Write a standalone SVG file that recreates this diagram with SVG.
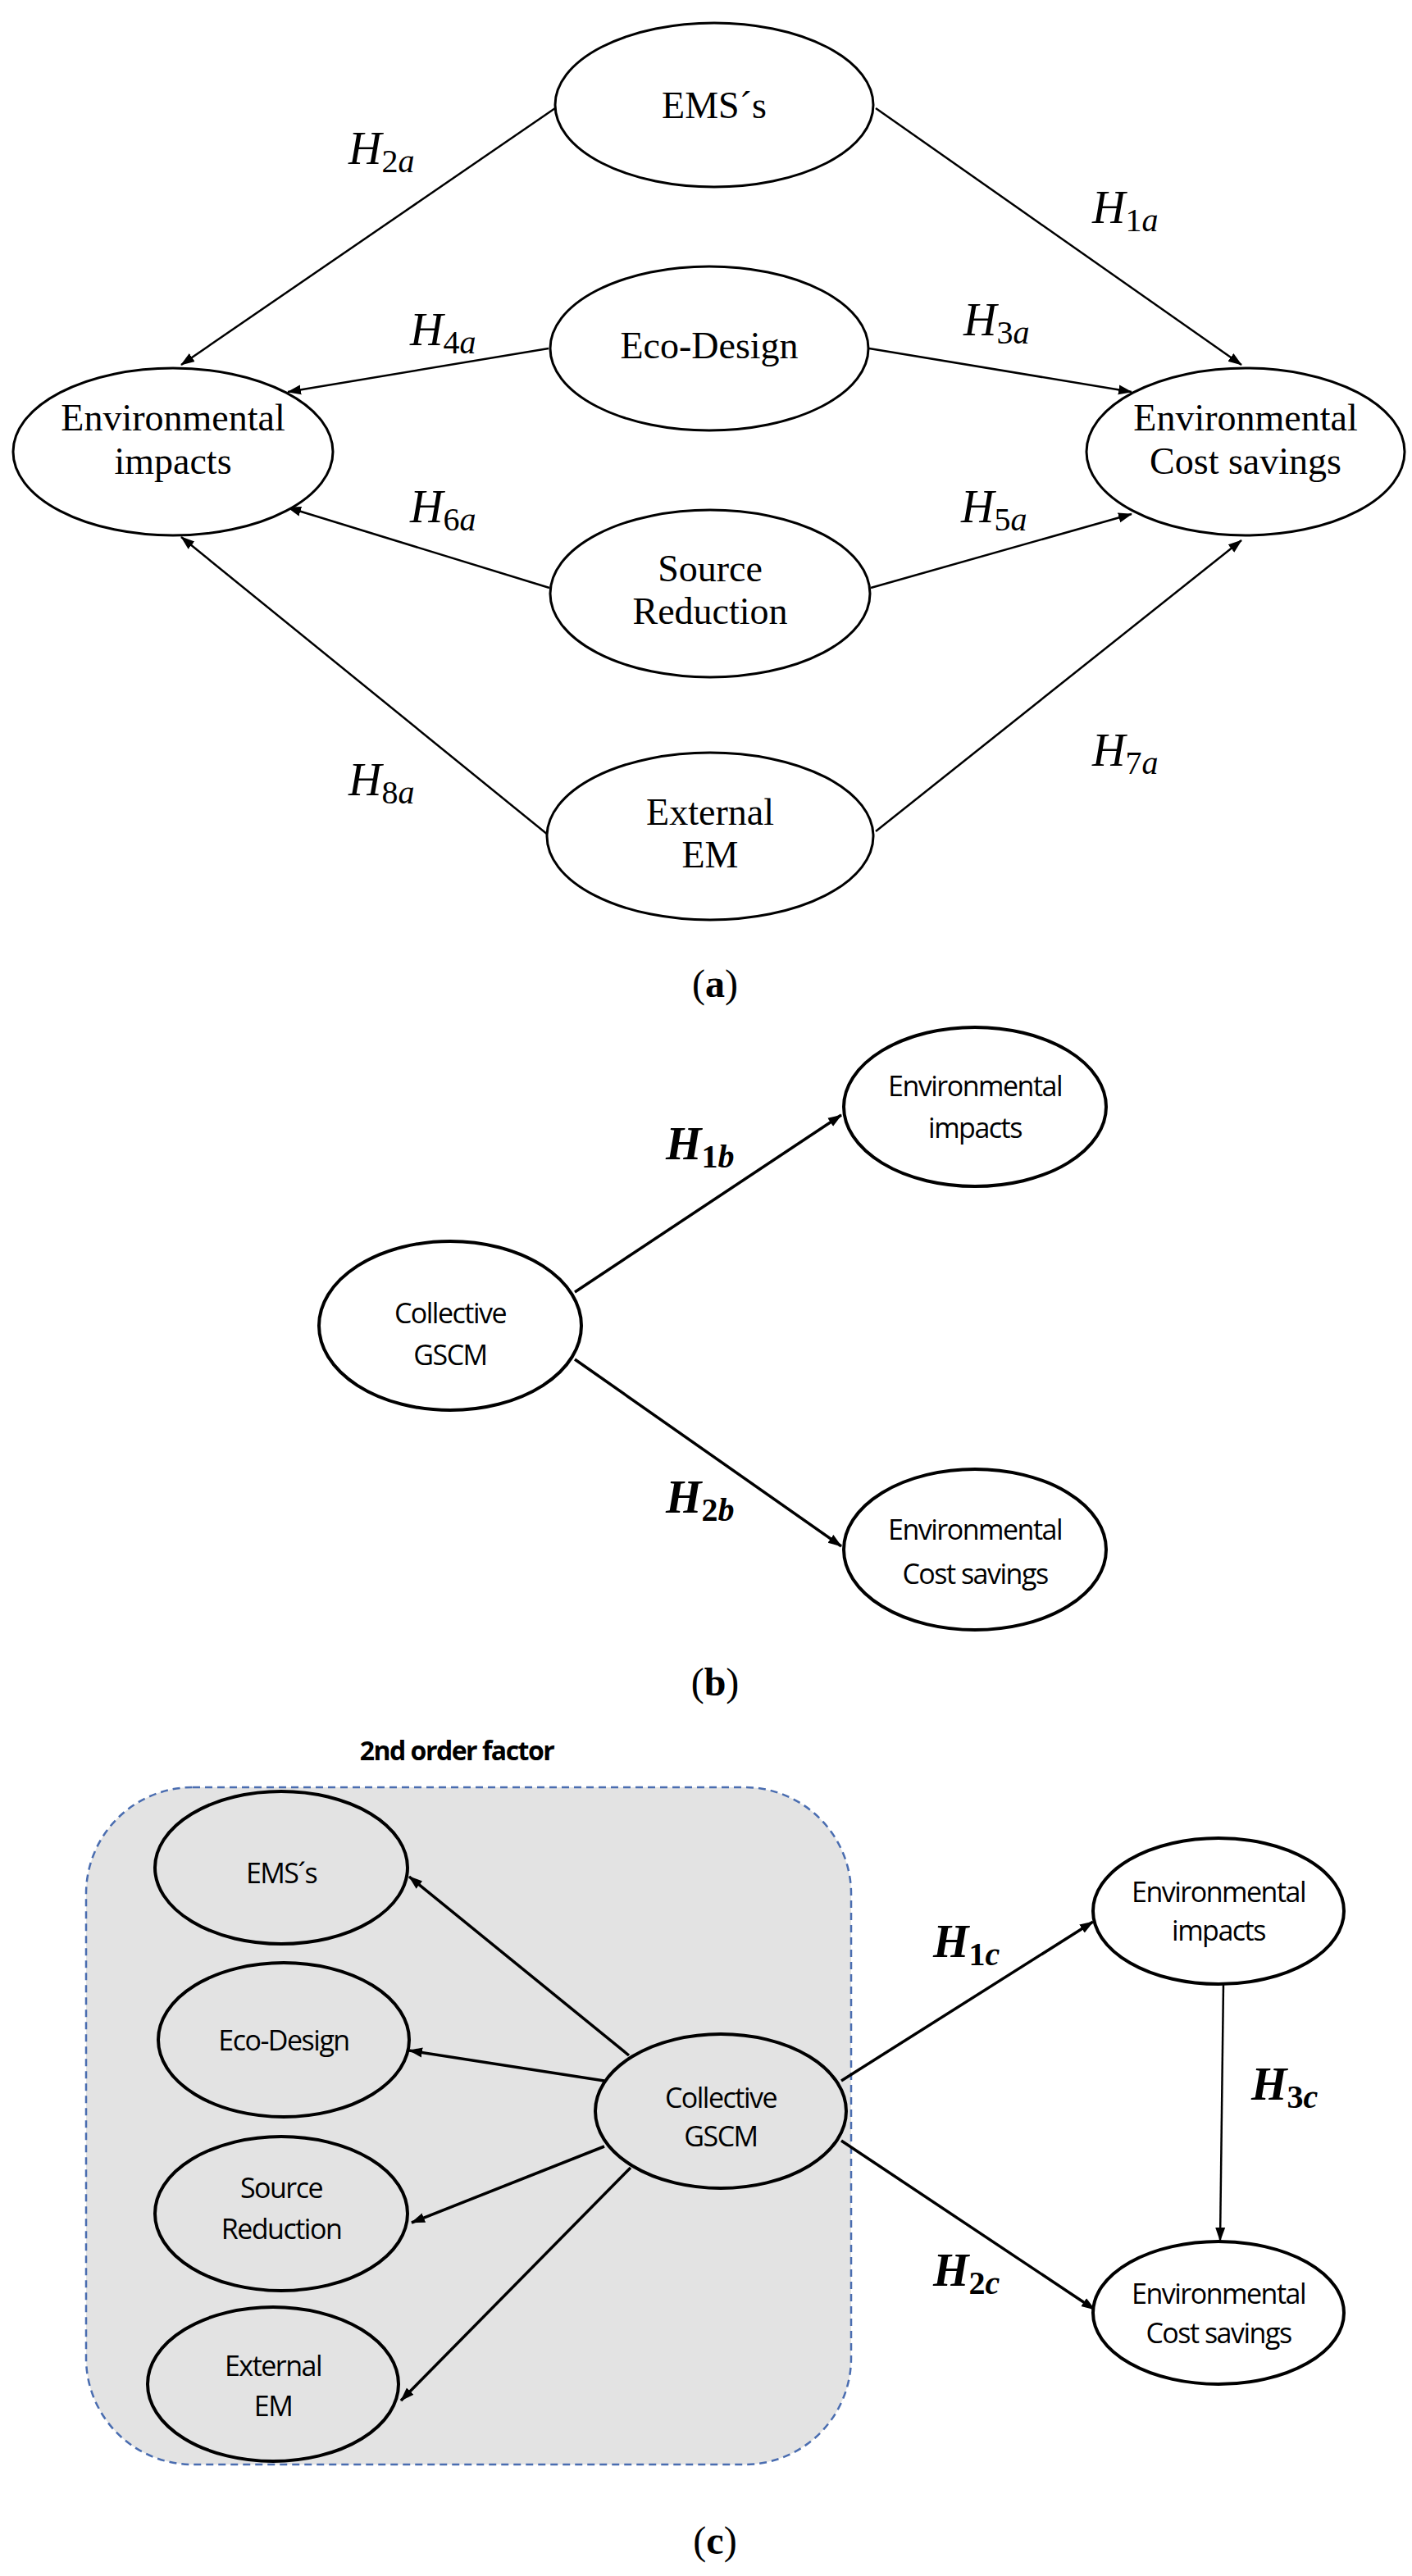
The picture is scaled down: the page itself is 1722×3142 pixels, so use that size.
<svg xmlns="http://www.w3.org/2000/svg" width="1722" height="3142" viewBox="0 0 1722 3142">
<style>
.na{fill:#fff;stroke:#000;stroke-width:3}
.nb{fill:#fff;stroke:#000;stroke-width:4}
.ng{fill:#e3e3e3;stroke:#000;stroke-width:4}
.ta{font-family:"Liberation Serif",serif;font-size:46px;text-anchor:middle}
.tb{font-family:"Open Sans","Liberation Sans",sans-serif;font-size:34px;text-anchor:middle;letter-spacing:-1.5px}
.ha{font-family:"Liberation Serif",serif;font-size:56px;font-style:italic}
.hb{font-family:"Liberation Serif",serif;font-size:56px;font-style:italic;font-weight:bold}
.sub{font-size:40px}
.ca{stroke:#000;stroke-width:2.5;fill:none;marker-end:url(#ah)}
.cb{stroke:#000;stroke-width:3.5;fill:none;marker-end:url(#ah)}
</style>
<defs>
<marker id="ah" markerUnits="userSpaceOnUse" markerWidth="18" markerHeight="14" refX="16" refY="7" orient="auto">
<path d="M0,1 L17,7 L0,13 Z" fill="#000"/>
</marker>
</defs>
<rect width="1722" height="3142" fill="#fff"/>
<g id="connectors">
<line class="ca" x1="677" y1="132" x2="221" y2="445"/>
<line class="ca" x1="1068" y1="132" x2="1514" y2="445"/>
<line class="ca" x1="669" y1="425" x2="351" y2="478"/>
<line class="ca" x1="1060" y1="425" x2="1380" y2="478"/>
<line class="ca" x1="670" y1="717" x2="351" y2="619"/>
<line class="ca" x1="1062" y1="717" x2="1380" y2="627"/>
<line class="ca" x1="668" y1="1018" x2="221" y2="655"/>
<line class="ca" x1="1068" y1="1014" x2="1514" y2="659"/>
<line class="cb" x1="701" y1="1576" x2="1026" y2="1360"/>
<line class="cb" x1="701" y1="1658" x2="1026" y2="1886"/>
</g>
<g id="group-2nd-order">
<rect x="105" y="2180" width="933" height="826" rx="130" ry="130" fill="#e3e3e3" stroke="#4a6db0" stroke-width="2.5" stroke-dasharray="9,6"/>
<text x="557" y="2147" class="tb" style="font-weight:bold;font-size:32px">2nd order factor</text>
</g>
<g id="connectors-c">
<line class="cb" x1="767" y1="2507" x2="499" y2="2289"/>
<line class="cb" x1="737" y1="2538" x2="499" y2="2501"/>
<line class="cb" x1="737" y1="2618" x2="502" y2="2711"/>
<line class="cb" x1="769" y1="2644" x2="489" y2="2928"/>
<line class="cb" x1="1026" y1="2538" x2="1333" y2="2344"/>
<line class="cb" x1="1026" y1="2611" x2="1335" y2="2817"/>
<line class="ca" x1="1492" y1="2419" x2="1488" y2="2733"/>
</g>
<g id="a-ems"><ellipse class="na" cx="871" cy="128" rx="194" ry="100"/><text class="ta" x="871" y="144">EMS´s</text></g>
<g id="a-eco"><ellipse class="na" cx="865" cy="425" rx="194" ry="100"/><text class="ta" x="865" y="437">Eco-Design</text></g>
<g id="a-src"><ellipse class="na" cx="866" cy="724" rx="195" ry="102"/><text class="ta" x="866" y="709">Source</text><text class="ta" x="866" y="761">Reduction</text></g>
<g id="a-ext"><ellipse class="na" cx="866" cy="1020" rx="199" ry="102"/><text class="ta" x="866" y="1006">External</text><text class="ta" x="866" y="1058">EM</text></g>
<g id="a-imp"><ellipse class="na" cx="211" cy="551" rx="195" ry="102"/><text class="ta" x="211" y="525">Environmental</text><text class="ta" x="211" y="578">impacts</text></g>
<g id="a-cost"><ellipse class="na" cx="1519" cy="551" rx="194" ry="102"/><text class="ta" x="1519" y="525">Environmental</text><text class="ta" x="1519" y="578">Cost savings</text></g>
<g id="labels-a">
<text class="ha" x="425" y="200">H<tspan class="sub" dy="10" font-style="normal">2</tspan><tspan class="sub">a</tspan></text>
<text class="ha" x="1332" y="272">H<tspan class="sub" dy="10" font-style="normal">1</tspan><tspan class="sub">a</tspan></text>
<text class="ha" x="500" y="421">H<tspan class="sub" dy="10" font-style="normal">4</tspan><tspan class="sub">a</tspan></text>
<text class="ha" x="1175" y="409">H<tspan class="sub" dy="10" font-style="normal">3</tspan><tspan class="sub">a</tspan></text>
<text class="ha" x="500" y="637">H<tspan class="sub" dy="10" font-style="normal">6</tspan><tspan class="sub">a</tspan></text>
<text class="ha" x="1172" y="637">H<tspan class="sub" dy="10" font-style="normal">5</tspan><tspan class="sub">a</tspan></text>
<text class="ha" x="425" y="970">H<tspan class="sub" dy="10" font-style="normal">8</tspan><tspan class="sub">a</tspan></text>
<text class="ha" x="1332" y="934">H<tspan class="sub" dy="10" font-style="normal">7</tspan><tspan class="sub">a</tspan></text>
<text class="ta" x="872" y="1216" style="font-size:48px">(<tspan font-weight="bold">a</tspan>)</text>
</g>
<g id="b-coll"><ellipse class="nb" cx="549" cy="1617" rx="160" ry="103"/><text class="tb" x="549" y="1614">Collective</text><text class="tb" x="549" y="1665">GSCM</text></g>
<g id="b-imp"><ellipse class="nb" cx="1189" cy="1350" rx="160" ry="97"/><text class="tb" x="1189" y="1337">Environmental</text><text class="tb" x="1189" y="1388">impacts</text></g>
<g id="b-cost"><ellipse class="nb" cx="1189" cy="1890" rx="160" ry="98"/><text class="tb" x="1189" y="1878">Environmental</text><text class="tb" x="1189" y="1932">Cost savings</text></g>
<g id="labels-b">
<text class="hb" x="812" y="1414">H<tspan class="sub" dy="10" font-style="normal">1</tspan><tspan class="sub">b</tspan></text>
<text class="hb" x="812" y="1845">H<tspan class="sub" dy="10" font-style="normal">2</tspan><tspan class="sub">b</tspan></text>
<text class="ta" x="872" y="2068" style="font-size:48px">(<tspan font-weight="bold">b</tspan>)</text>
</g>
<g id="c-ems"><ellipse class="ng" cx="343" cy="2278" rx="154" ry="93"/><text class="tb" x="343" y="2297">EMS´s</text></g>
<g id="c-eco"><ellipse class="ng" cx="346" cy="2488" rx="153" ry="94"/><text class="tb" x="346" y="2501">Eco-Design</text></g>
<g id="c-src"><ellipse class="ng" cx="343" cy="2700" rx="154" ry="94"/><text class="tb" x="343" y="2681">Source</text><text class="tb" x="343" y="2731">Reduction</text></g>
<g id="c-ext"><ellipse class="ng" cx="333" cy="2908" rx="153" ry="94"/><text class="tb" x="333" y="2898">External</text><text class="tb" x="333" y="2947">EM</text></g>
<g id="c-coll"><ellipse class="ng" cx="879" cy="2575" rx="153" ry="94"/><text class="tb" x="879" y="2571">Collective</text><text class="tb" x="879" y="2618">GSCM</text></g>
<g id="c-imp"><ellipse class="nb" cx="1486" cy="2331" rx="153" ry="89"/><text class="tb" x="1486" y="2320">Environmental</text><text class="tb" x="1486" y="2367">impacts</text></g>
<g id="c-cost"><ellipse class="nb" cx="1486" cy="2821" rx="153" ry="87"/><text class="tb" x="1486" y="2810">Environmental</text><text class="tb" x="1486" y="2858">Cost savings</text></g>
<g id="labels-c">
<text class="hb" x="1138" y="2387">H<tspan class="sub" dy="10" font-style="normal">1</tspan><tspan class="sub">c</tspan></text>
<text class="hb" x="1526" y="2561">H<tspan class="sub" dy="10" font-style="normal">3</tspan><tspan class="sub">c</tspan></text>
<text class="hb" x="1138" y="2788">H<tspan class="sub" dy="10" font-style="normal">2</tspan><tspan class="sub">c</tspan></text>
<text class="ta" x="872" y="3115" style="font-size:48px">(<tspan font-weight="bold">c</tspan>)</text>
</g>
</svg>
